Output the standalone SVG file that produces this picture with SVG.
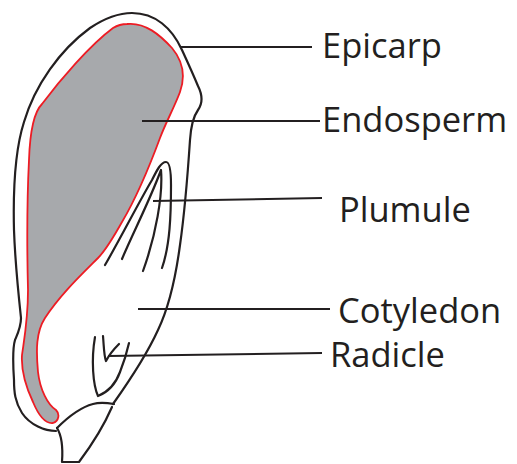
<svg xmlns="http://www.w3.org/2000/svg" width="517" height="464" viewBox="0 0 517 464">
  <style>
    .ink { fill: none; stroke: #231f20; stroke-width: 2.2; stroke-linecap: round; stroke-linejoin: round; }
    .lead { fill: none; stroke: #231f20; stroke-width: 2; }
    .endo { fill: #a7a9ac; stroke: #ed1c24; stroke-width: 1.8; }
    .lbl { font-family: "Open Sans", "Noto Sans", "Liberation Sans", sans-serif; font-size: 34.5px; fill: #231f20; }
  </style>
  <rect width="517" height="464" fill="#ffffff"/>

  <!-- seed coat (epicarp) outline -->
  <g id="epicarp">
    <path class="ink" d="M56,431 C45,431 30,425 22,413 C15,402 14,392 14,380 C13,365 12,350 15,340 C18,333 21,327 21,318 C18,290 15,260 14,230 C13,190 15,150 24,122 C35,85 60,50 90,28 C105,18 118,13 132,13 C155,13 172,28 182,50 C188,63 193,74 198,86 C203,96 203,103 198,110 C193,117 191,125 190,140 C188,170 185,210 180,245 C176,275 170,305 158,330 C148,352 130,380 113,404"/>
    <!-- basal cap -->
    <path class="ink" d="M57,428 C65,420 78,408 93,404 C100,402 108,403 114,404"/>
    <path class="ink" d="M57,428 C62,436 63,448 62,462 L79,462 C88,450 102,430 112,407"/>
  </g>

  <!-- endosperm -->
  <g id="endosperm">
    <path class="endo" d="M127,24 C145,22 160,35 172,48 C182,60 186,75 180,92 C174,108 166,122 160,138 C150,165 138,195 122,222 C113,238 106,250 98,258 C80,276 60,295 45,318 C36,332 36,350 38,372 C40,390 48,405 56,410 C60,414 59,421 53,423 C45,424 38,414 33,402 C26,387 21,370 22,355 C24,340 28,320 28,290 C27,250 27,200 29,160 C30,130 34,112 42,104 C60,80 90,45 113,28 C118,25 122,24 127,24 Z"/>
  </g>

  <!-- plumule -->
  <g id="plumule">
    <path class="ink" d="M105,265 C118,243 140,200 152,180 C157,170 161,162 166,162 C170,162 171,172 171,185 C171,215 170,245 162,268"/>
    <path class="ink" d="M122,259 C132,235 150,200 161,170 C163,195 156,235 143,271"/>
  </g>

  <!-- radicle -->
  <g id="radicle">
    <path class="ink" d="M95,337 C91,360 93,385 98,396 C108,392 116,383 120,372 C124,362 127,352 129,343"/>
    <path class="ink" d="M103,336 C104,348 104,356 106,361 C109,355 113,350 119,344"/>
  </g>

  <!-- leader lines -->
  <g id="connectors">
    <path class="lead" d="M180,47 H312"/>
    <path class="lead" d="M142,121 H320"/>
    <path class="lead" d="M153,201 L322,198"/>
    <path class="lead" d="M138,309 H330"/>
    <path class="lead" d="M108,356 L322,353"/>
  </g>

  <!-- labels -->
  <g id="labels">
    <text class="lbl" x="322" y="58">Epicarp</text>
    <text class="lbl" x="322" y="132">Endosperm</text>
    <text class="lbl" x="339" y="222">Plumule</text>
    <text class="lbl" x="338" y="323">Cotyledon</text>
    <text class="lbl" x="330" y="367">Radicle</text>
  </g>
</svg>
